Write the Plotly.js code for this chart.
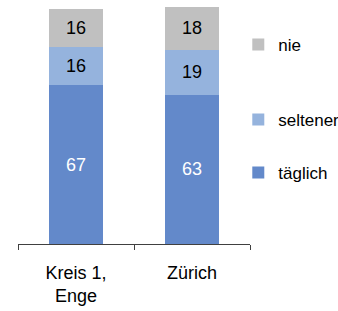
<!DOCTYPE html>
<html><head><meta charset="utf-8">
<script src="https://cdn.plot.ly/plotly-3.0.1.min.js"></script>
<style>html,body{margin:0;padding:0;background:#fff}</style>
</head><body>
<div id="chart" style="width:338px;height:311px"></div>
<script>
const categories = ["Kreis 1,<br>Enge", "Zürich"];
const taeglich = [67, 63];
const seltener = [16, 19];
const nie = [16, 18];
const seriesNames = ["täglich", "seltener", "nie"];
const colors = ["#6389CA", "#95B3DD", "#C0C0C0"];

const FONT = "Liberation Sans, Arial, sans-serif";
const values = [taeglich, seltener, nie];
const legendIds = ["legend3", "legend2", "legend"];
const textColors = ["#ffffff", "#000000", "#000000"];

const traces = values.map((v, i) => ({
  type: "bar",
  name: seriesNames[i],
  x: categories,
  y: v,
  text: v.map(String),
  textposition: "inside",
  insidetextanchor: "middle",
  textfont: {family: FONT, size: 18, color: textColors[i]},
  marker: {color: colors[i], line: {width: 0}},
  legend: legendIds[i],
  hoverinfo: "none"
}));

const legendBase = {
  xref: "container", yref: "container",
  x: 0.705, xanchor: "left", yanchor: "middle",
  bgcolor: "rgba(0,0,0,0)",
  font: {family: FONT, size: 17, color: "#000"}
};

const layout = {
  width: 338, height: 311,
  margin: {l: 18, r: 88, t: 7, b: 67, autoexpand: false},
  barmode: "stack",
  bargap: 0.543,
  showlegend: true,
  paper_bgcolor: "#fff",
  plot_bgcolor: "#fff",
  font: {family: FONT, size: 18, color: "#000"},
  legend: Object.assign({}, legendBase, {y: 1 - 45/311}),
  legend2: Object.assign({}, legendBase, {y: 1 - 120/311}),
  legend3: Object.assign({}, legendBase, {y: 1 - 173/311}),
  xaxis: {
    type: "category",
    range: [-0.5, 1.5],
    showline: true, linecolor: "#404040", linewidth: 1,
    ticks: "outside", tickson: "boundaries", ticklen: 5, tickcolor: "#404040",
    ticklabelstandoff: 12,
    showgrid: false, zeroline: false,
    automargin: false,
    tickfont: {family: FONT, size: 18, color: "#000"}
  },
  yaxis: {
    range: [0, 100],
    visible: false,
    showgrid: false, zeroline: false
  }
};

Plotly.newPlot("chart", traces, layout, {staticPlot: true, displayModeBar: false});
</script>
</body></html>
